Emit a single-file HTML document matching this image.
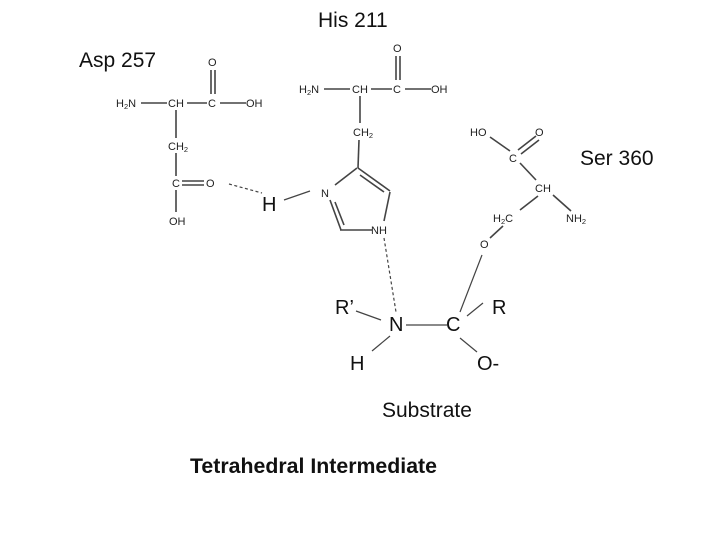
<!DOCTYPE html>
<html><head><meta charset="utf-8"><style>
html,body{margin:0;padding:0;background:#fff;}
svg{display:block;}
.s{font-family:"Liberation Sans",Arial,sans-serif;font-size:11px;fill:#222;}
.b{font-family:"Liberation Sans",Arial,sans-serif;font-size:21px;fill:#111;}
.m{font-family:"Liberation Sans",Arial,sans-serif;font-size:20px;fill:#111;}
line{stroke:#444;stroke-width:1.6;}
.d{stroke-dasharray:3,2.5;stroke-width:1.2;}
</style></head><body>
<svg width="720" height="540" viewBox="0 0 720 540">
<rect width="720" height="540" fill="#fff"/>
<!-- labels -->
<text class="b" x="318" y="27">His 211</text>
<text class="b" x="79" y="67">Asp 257</text>
<text class="b" x="580" y="165">Ser 360</text>
<text class="b" x="382" y="417">Substrate</text>
<text class="b" x="190" y="473" style="font-weight:bold" textLength="247" lengthAdjust="spacingAndGlyphs">Tetrahedral Intermediate</text>

<!-- Asp -->
<text class="s" x="116" y="107">H<tspan font-size="7.5" dy="2">2</tspan><tspan dy="-2">N</tspan></text>
<line x1="141" y1="103" x2="167" y2="103"/>
<text class="s" x="168" y="107">CH</text>
<line x1="187" y1="103" x2="207" y2="103"/>
<text class="s" x="208" y="107">C</text>
<line x1="220" y1="103" x2="246" y2="103"/>
<text class="s" x="246" y="107">OH</text>
<text class="s" x="208" y="66">O</text>
<line x1="211" y1="70" x2="211" y2="94"/><line x1="215" y1="70" x2="215" y2="94"/>
<line x1="176" y1="110" x2="176" y2="138"/>
<text class="s" x="168" y="150">CH<tspan font-size="7.5" dy="2">2</tspan></text>
<line x1="176" y1="153" x2="176" y2="176"/>
<text class="s" x="172" y="187">C</text>
<line x1="182" y1="181" x2="204" y2="181"/><line x1="182" y1="185" x2="204" y2="185"/>
<text class="s" x="206" y="187">O</text>
<line x1="176" y1="190" x2="176" y2="212"/>
<text class="s" x="169" y="225">OH</text>
<line class="d" x1="229" y1="184" x2="262" y2="193"/>
<text class="m" x="262" y="211">H</text>
<line x1="284" y1="200" x2="310" y2="191" style="stroke-width:1.2"/>

<!-- His -->
<text class="s" x="299" y="93">H<tspan font-size="7.5" dy="2">2</tspan><tspan dy="-2">N</tspan></text>
<line x1="324" y1="89" x2="350" y2="89"/>
<text class="s" x="352" y="93">CH</text>
<line x1="371" y1="89" x2="392" y2="89"/>
<text class="s" x="393" y="93">C</text>
<line x1="405" y1="89" x2="431" y2="89"/>
<text class="s" x="431" y="93">OH</text>
<text class="s" x="393" y="52">O</text>
<line x1="396" y1="56" x2="396" y2="80"/><line x1="400" y1="56" x2="400" y2="80"/>
<line x1="360" y1="96" x2="360" y2="123"/>
<text class="s" x="353" y="136">CH<tspan font-size="7.5" dy="2">2</tspan></text>
<line x1="359" y1="140" x2="358" y2="168"/>
<line x1="357" y1="168" x2="335" y2="185"/>
<line x1="358" y1="168" x2="390" y2="191"/>
<line x1="360" y1="175" x2="384" y2="192"/>
<line x1="390" y1="192" x2="384" y2="221"/>
<text class="s" x="321" y="197">N</text>
<line x1="330" y1="200" x2="341" y2="230"/>
<line x1="335" y1="202" x2="344" y2="225"/>
<line x1="340" y1="230" x2="372" y2="230"/>
<text class="s" x="371" y="234">NH</text>
<line class="d" x1="384" y1="238" x2="396" y2="312"/>

<!-- Ser -->
<text class="s" x="470" y="136">HO</text>
<text class="s" x="535" y="136">O</text>
<line x1="490" y1="137" x2="510" y2="151"/>
<line x1="518" y1="150" x2="536" y2="136"/><line x1="521" y1="154" x2="539" y2="140"/>
<text class="s" x="509" y="162">C</text>
<line x1="520" y1="163" x2="536" y2="180"/>
<text class="s" x="535" y="192">CH</text>
<line x1="553" y1="195" x2="571" y2="211"/>
<text class="s" x="566" y="222">NH<tspan font-size="7.5" dy="2">2</tspan></text>
<line x1="538" y1="196" x2="520" y2="210"/>
<text class="s" x="493" y="222">H<tspan font-size="7.5" dy="2">2</tspan><tspan dy="-2">C</tspan></text>
<line x1="503" y1="226" x2="490" y2="238"/>
<text class="s" x="480" y="248">O</text>
<line x1="482" y1="255" x2="460" y2="312" style="stroke-width:1.2"/>

<!-- Substrate -->
<text class="m" x="335" y="314">R’</text>
<line x1="356" y1="311" x2="381" y2="320" style="stroke-width:1.2"/>
<text class="m" x="389" y="331">N</text>
<line x1="406" y1="325" x2="447" y2="325" style="stroke-width:1.2"/>
<text class="m" x="446" y="331">C</text>
<text class="m" x="492" y="314">R</text>
<line x1="467" y1="316" x2="483" y2="303" style="stroke-width:1.2"/>
<text class="m" x="350" y="370">H</text>
<line x1="372" y1="351" x2="390" y2="336" style="stroke-width:1.2"/>
<line x1="460" y1="338" x2="477" y2="352" style="stroke-width:1.2"/>
<text class="m" x="477" y="370">O-</text>
</svg>
</body></html>
